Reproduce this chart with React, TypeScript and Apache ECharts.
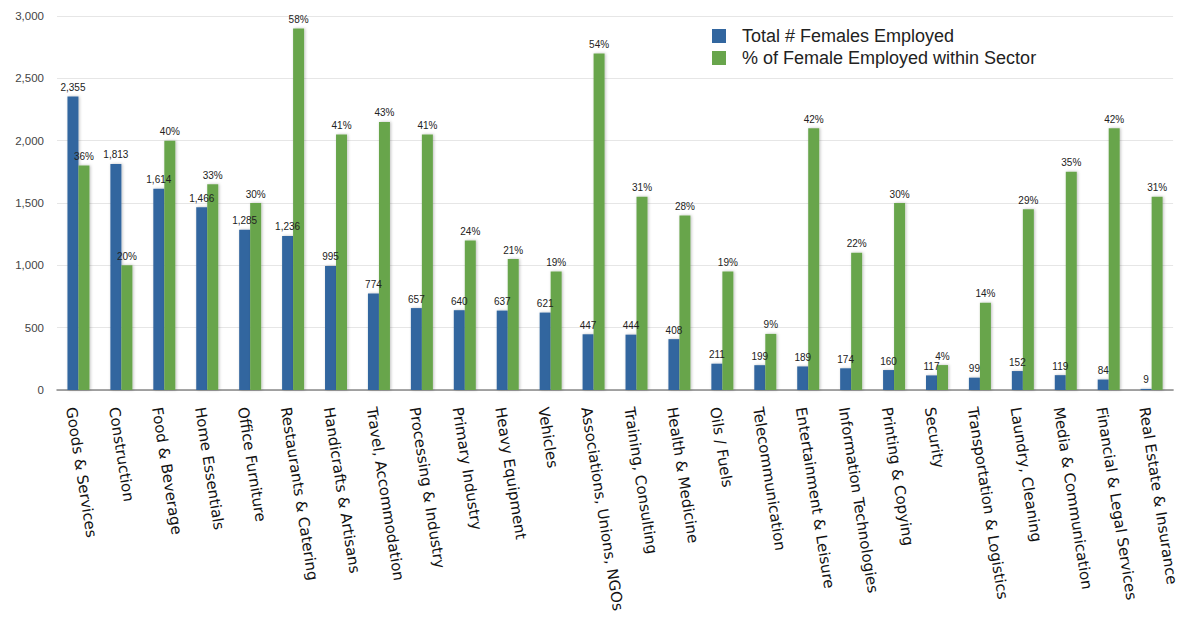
import React, { useEffect, useRef } from "react";
import * as echarts from "echarts";

const categories = [
  "Goods & Services",
  "Construction",
  "Food & Beverage",
  "Home Essentials",
  "Office Furniture",
  "Restaurants & Catering",
  "Handicrafts & Artisans",
  "Travel, Accommodation",
  "Processing & Industry",
  "Primary Industry",
  "Heavy Equipment",
  "Vehicles",
  "Associations, Unions, NGOs",
  "Training, Consulting",
  "Health & Medicine",
  "Oils / Fuels",
  "Telecommunication",
  "Entertainment & Leisure",
  "Information Technologies",
  "Printing & Copying",
  "Security",
  "Transportation & Logistics",
  "Laundry, Cleaning",
  "Media & Communication",
  "Financial & Legal Services",
  "Real Estate & Insurance",
];

const femalesEmployed = [
  2355, 1813, 1614, 1466, 1285, 1236, 995, 774, 657, 640, 637, 621, 447, 444,
  408, 211, 199, 189, 174, 160, 117, 99, 152, 119, 84, 9,
];

const femalePercent = [
  36, 20, 40, 33, 30, 58, 41, 43, 41, 24, 21, 19, 54, 31, 28, 19, 9, 42, 22,
  30, 4, 14, 29, 35, 42, 31,
];

// percent bars are drawn on the same axis, scaled so that 1% = 50 units
const percentScale = 50;

const seriesNames = [
  "Total # Females Employed",
  "% of Female Employed within Sector",
];

export default function App() {
  const ref = useRef<HTMLDivElement>(null);
  useEffect(() => {
    if (!ref.current) return;
    const chart = echarts.init(ref.current, null, { renderer: "svg" });
    const fontFamily = "'DejaVu Sans', Verdana, sans-serif";
    chart.setOption({
      animation: false,
      backgroundColor: "#ffffff",
      legend: {
        orient: "vertical",
        left: 707,
        top: 22,
        itemWidth: 14,
        itemHeight: 14,
        itemGap: 4,
        icon: "rect",
        textStyle: {
          fontFamily: "Liberation Sans, Arial, sans-serif",
          fontSize: 18,
          lineHeight: 14,
          color: "#222",
          padding: [0, 0, 0, 11],
        },
        data: seriesNames,
      },
      grid: { left: 57, right: -2, top: 16, bottom: 239, containLabel: false },
      xAxis: {
        type: "category",
        data: categories,
        axisLine: { lineStyle: { color: "#888", width: 1.5 } },
        axisTick: { show: false },
        axisLabel: {
          interval: 0,
          rotate: -81,
          margin: 16,
          verticalAlign: "top",
          fontFamily,
          fontSize: 15,
          color: "#111",
        },
      },
      yAxis: {
        type: "value",
        min: 0,
        max: 3000,
        interval: 500,
        axisLine: { show: false },
        axisTick: { show: false },
        splitLine: { lineStyle: { color: "#e6e6e6", width: 1 } },
        axisLabel: {
          margin: 13,
          fontFamily: "Liberation Sans, Arial, sans-serif",
          fontSize: 11.5,
          color: "#444",
          formatter: (v: number) => v.toLocaleString("en-US"),
        },
      },
      series: [
        {
          name: seriesNames[0],
          type: "bar",
          data: femalesEmployed,
          barWidth: 11,
          barGap: "0%",
          itemStyle: {
            color: "#32669f",
            shadowColor: "rgba(0,0,0,0.25)",
            shadowBlur: 3,
            shadowOffsetX: 1,
          },
          label: {
            show: true,
            position: "top",
            distance: 4,
            fontFamily: "Liberation Sans, Arial, sans-serif",
            fontSize: 10,
            color: "#222",
            formatter: (p: any) => Number(p.value).toLocaleString("en-US"),
          },
        },
        {
          name: seriesNames[1],
          type: "bar",
          data: femalePercent.map((v) => v * percentScale),
          barWidth: 11,
          itemStyle: {
            color: "#68a54c",
            shadowColor: "rgba(0,0,0,0.25)",
            shadowBlur: 3,
            shadowOffsetX: 1,
          },
          label: {
            show: true,
            position: "top",
            distance: 4,
            fontFamily: "Liberation Sans, Arial, sans-serif",
            fontSize: 10,
            color: "#222",
            formatter: (p: any) => femalePercent[p.dataIndex] + "%",
          },
        },
      ],
    });
    return () => chart.dispose();
  }, []);
  return (
    <div
      ref={ref}
      style={{ position: "fixed", left: 0, top: 0, width: 1180, height: 629 }}
    />
  );
}
